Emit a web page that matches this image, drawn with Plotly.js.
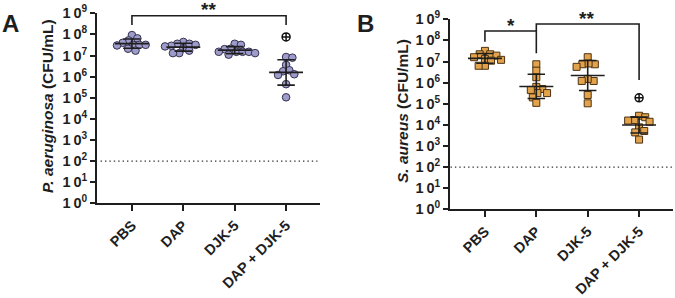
<!DOCTYPE html>
<html><head><meta charset="utf-8">
<script src="https://cdn.plot.ly/plotly-3.0.1.min.js"></script>
<style>html,body{margin:0;padding:0;background:#fff}</style>
</head><body><div id="chart" style="width:675px;height:298px"></div>
<script>
// ---- data (CFU/mL) ----
const categories = ['PBS', 'DAP', 'DJK-5', 'DAP + DJK-5'];
const paPBS   = [9.3e7, 6.5e7, 5.2e7, 4.0e7, 3.2e7, 3.2e7, 3.2e7, 3.0e7, 2.1e7, 1.7e7];
const paDAP   = [4.4e7, 3.6e7, 3.6e7, 2.9e7, 3.2e7, 2.7e7, 2.2e7, 1.7e7, 1.3e7, 1.3e7];
const paDJK   = [3.6e7, 3.2e7, 2.1e7, 2.0e7, 1.5e7, 1.5e7, 1.5e7, 1.5e7, 1.1e7, 1.3e7];
const paCombo = [8.5e6, 7.9e6, 3.6e6, 1.8e6, 2.0e6, 1.2e6, 1.3e6, 4.4e5, 1.05e5];
const saPBS   = [3.2e7, 2.2e7, 2.2e7, 1.9e7, 1.6e7, 1.3e7, 1.1e7, 1.2e7, 6.3e6, 6.3e6];
const saDAP   = [7.4e6, 3.7e6, 1.8e6, 5.0e5, 6.3e5, 3.2e5, 4.5e5, 3.2e5, 2.0e5, 1.1e5];
const saDJK   = [1.6e7, 7.4e6, 7.4e6, 8.1e6, 5.6e6, 1.2e6, 1.5e6, 1.2e6, 2.6e5, 1.05e5];
const saCombo = [2.7e4, 1.7e4, 1.6e4, 2.3e4, 1.4e4, 7.6e3, 5.1e3, 4.4e3, 2.0e3];
const detectionLimit = 100;
const crossMarkA = 7.6e7;   // ⊕ above DAP + DJK-5, panel A
const crossMarkB = 1.9e5;   // ⊕ above DAP + DJK-5, panel B
const yTickVals = [1, 10, 100, 1e3, 1e4, 1e5, 1e6, 1e7, 1e8, 1e9];
const yTickText = yTickVals.map((v, i) => '<span style="letter-spacing:2.8px">1</span>0<sup>' + i + '</sup>');

// ---- helpers ----
const PX_PER_X = 51.3, PX_PER_DEC = 21.1;
function swarm(vals, center, d) {
  const pts = [], out = new Array(vals.length);
  const order = vals.map((v, i) => i).sort((a, b) => vals[b] - vals[a]);
  for (const i of order) {
    const y = Math.log10(vals[i]) * PX_PER_DEC;
    const cands = [0];
    for (const p of pts) {
      const dy = Math.abs(p.y - y);
      if (dy < d) { const w = Math.sqrt(d * d - dy * dy); cands.push(p.x + w, p.x - w); }
    }
    cands.sort((a, b) => Math.abs(a) - Math.abs(b));
    let chosen = 0;
    for (const c of cands) {
      if (pts.every(p => (p.x - c) ** 2 + (p.y - y) ** 2 >= d * d - 1e-6)) { chosen = c; break; }
    }
    pts.push({ x: chosen, y });
    out[i] = center + chosen / PX_PER_X;
  }
  return out;
}
function stats(vals) {
  const l = vals.map(Math.log10);
  const m = l.reduce((a, b) => a + b, 0) / l.length;
  const s = Math.sqrt(l.reduce((a, b) => a + (b - m) ** 2, 0) / (l.length - 1));
  return { m, s };
}
function summaryTrace(groups, xa, ya) {
  const x = [], y = [];
  groups.forEach((g, i) => {
    const c = i + 1, st = stats(g);
    const mean = 10 ** st.m, lo = 10 ** (st.m - st.s), hi = 10 ** (st.m + st.s);
    x.push(c - 0.33, c + 0.33, null, c, c, null, c - 0.17, c + 0.17, null, c - 0.17, c + 0.17, null);
    y.push(mean, mean, null, lo, hi, null, lo, lo, null, hi, hi, null);
  });
  return { x, y, xaxis: xa, yaxis: ya, mode: 'lines', type: 'scatter', hoverinfo: 'skip',
    line: { color: '#1e1e1e', width: 1.6 }, showlegend: false };
}
function pointsTrace(groups, xa, ya, symbol, fill, edge, size) {
  const x = [], y = [];
  groups.forEach((g, i) => { x.push(...swarm(g, i + 1, 6.3)); y.push(...g); });
  return { x, y, xaxis: xa, yaxis: ya, mode: 'markers', type: 'scatter', showlegend: false,
    marker: { symbol, size, color: fill, line: { color: edge, width: 1 } } };
}
function lineTrace(x, y, xa, ya, extra) {
  return Object.assign({ x, y, xaxis: xa, yaxis: ya, mode: 'lines', type: 'scatter', hoverinfo: 'skip',
    showlegend: false, cliponaxis: false, line: { color: '#1e1e1e', width: 1.6 } }, extra || {});
}

const groupsA = [paPBS, paDAP, paDJK, paCombo];
const groupsB = [saPBS, saDAP, saDJK, saCombo];
const circleFill = '#9d9bc9', circleEdge = '#34314f';
const squareFill = '#e2a34c', squareEdge = '#4d3211';

const traces = [
  lineTrace([0.39, 4.61], [detectionLimit, detectionLimit], 'x', 'y', { line: { color: '#333', width: 1.2, dash: '1.4px,3px' } }),
  lineTrace([0.33, 4.67], [detectionLimit, detectionLimit], 'x2', 'y2', { line: { color: '#333', width: 1.2, dash: '1.4px,3px' } }),
  pointsTrace(groupsA, 'x', 'y', 'circle', circleFill, circleEdge, 7.6),
  pointsTrace(groupsB, 'x2', 'y2', 'square', squareFill, squareEdge, 7),
  summaryTrace(groupsA, 'x', 'y'),
  summaryTrace(groupsB, 'x2', 'y2'),
  { x: [4], y: [crossMarkA], xaxis: 'x', yaxis: 'y', mode: 'markers', type: 'scatter', showlegend: false,
    marker: { symbol: 'circle-cross-open', size: 8, color: '#111', line: { width: 1.5 } } },
  { x: [4], y: [crossMarkB], xaxis: 'x2', yaxis: 'y2', mode: 'markers', type: 'scatter', showlegend: false,
    marker: { symbol: 'circle-cross-open', size: 8, color: '#111', line: { width: 1.5 } } },
  // significance brackets
  lineTrace([1, 1, 4, 4], [10 ** 8.445, 10 ** 8.886, 10 ** 8.886, 10 ** 8.445], 'x', 'y'),
  lineTrace([1, 1, 2], [10 ** 7.94, 10 ** 8.445, 10 ** 8.445], 'x2', 'y2'),
  lineTrace([2, 2, 4, 4], [10 ** 7.39, 10 ** 8.78, 10 ** 8.78, 10 ** 6.12], 'x2', 'y2')
];

const W = 675, H = 298;
const bold = { family: 'Liberation Sans, Arial, sans-serif', size: 14.5, color: '#1e1e1e', weight: 'bold' };
function xAxis(dom, anchor) {
  return { domain: dom, anchor, range: [0.32, 4.66], tickvals: [1, 2, 3, 4], ticktext: categories,
    tickangle: -45, ticks: 'outside', ticklen: 6, tickwidth: 2, tickcolor: '#1e1e1e',
    showline: true, linewidth: 2, linecolor: '#1e1e1e', showgrid: false, zeroline: false,
    automargin: false, tickfont: Object.assign({}, bold, { size: 14.5 }), fixedrange: true };
}
function yAxis(dom, anchor) {
  return { domain: dom, anchor, type: 'log', range: [0, 9], tickvals: yTickVals, ticktext: yTickText,
    ticks: 'outside', ticklen: 5, tickwidth: 2, tickcolor: '#1e1e1e',
    showline: true, linewidth: 2, linecolor: '#1e1e1e', showgrid: false, zeroline: false,
    automargin: false, tickfont: Object.assign({}, bold, { size: 14.5 }), fixedrange: true };
}
const ann = (text, xpx, ypx, extra) => Object.assign({ text, xref: 'paper', yref: 'paper',
  x: xpx / W, y: 1 - ypx / H, showarrow: false, xanchor: 'center', yanchor: 'middle', font: bold }, extra || {});
const starFont = Object.assign({}, bold, { size: 19 });

const layout = {
  width: W, height: H, autosize: false,
  margin: { l: 0, r: 0, t: 0, b: 0 },
  paper_bgcolor: '#fff', plot_bgcolor: 'rgba(0,0,0,0)',
  showlegend: false,
  xaxis: xAxis([97 / W, 320 / W], 'y'),
  yaxis: yAxis([1 - 203.3 / H, 1 - 13.3 / H], 'x'),
  xaxis2: xAxis([450 / W, 673 / W], 'y2'),
  yaxis2: yAxis([1 - 209.3 / H, 1 - 19.3 / H], 'x2'),
  annotations: [
    ann('A', 11, 23, { font: Object.assign({}, bold, { size: 24 }) }),
    ann('B', 365, 23, { font: Object.assign({}, bold, { size: 24 }) }),
    ann('<i>P. aeruginosa</i> (CFU/mL)', 47, 106, { textangle: -90, font: Object.assign({}, bold, { size: 15.5 }) }),
    ann('<i>S. aureus</i> (CFU/mL)', 402, 111, { textangle: -90, font: Object.assign({}, bold, { size: 15.5 }) }),
    ann('**', 208.5, 10, { font: starFont }),
    ann('*', 510.7, 26, { font: starFont }),
    ann('**', 586.7, 18, { font: starFont })
  ]
};
Plotly.newPlot('chart', traces, layout, { staticPlot: true, displayModeBar: false });
</script></body></html>
